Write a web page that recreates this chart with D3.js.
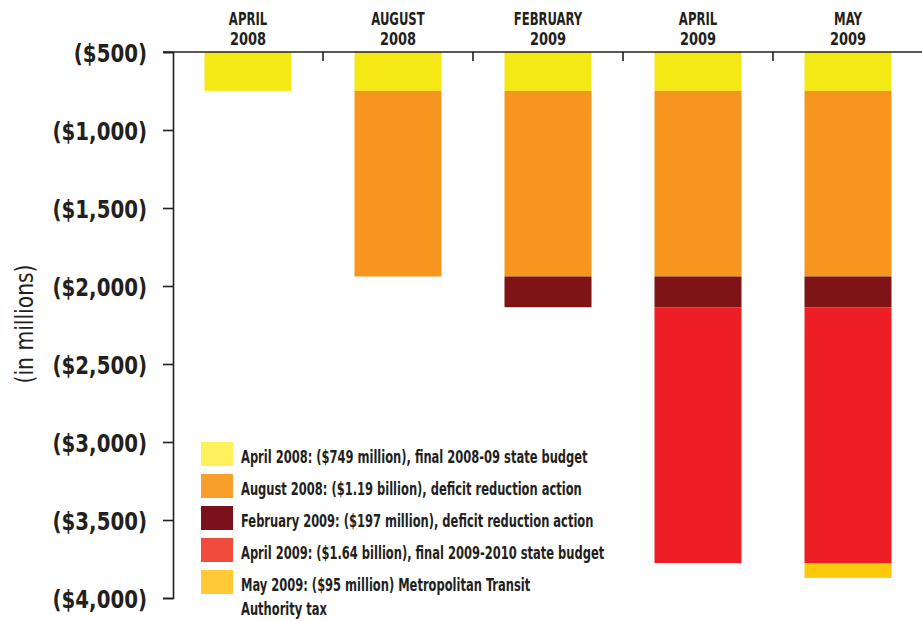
<!DOCTYPE html>
<html>
<head>
<meta charset="utf-8">
<script src="https://cdn.jsdelivr.net/npm/d3@7"></script>
<style>
  html, body { margin: 0; padding: 0; background: #fff; }
  svg { display: block; }
  text { fill: #231f20; font-family: "DejaVu Sans Condensed", "Liberation Sans Narrow", sans-serif; }
</style>
</head>
<body>
<svg id="chart" width="922" height="621"></svg>
<script>
// Budget actions, in the order they were taken
const periods = ["APRIL|2008", "AUGUST|2008", "FEBRUARY|2009", "APRIL|2009", "MAY|2009"];
const actionAmounts = [749, 1190, 197, 1640, 95]; // $ millions cut at each step
const actionLabels = [
  "April 2008: ($749 million), final 2008-09 state budget",
  "August 2008: ($1.19 billion), deficit reduction action",
  "February 2009: ($197 million), deficit reduction action",
  "April 2009: ($1.64 billion), final 2009-2010 state budget",
  "May 2009: ($95 million) Metropolitan Transit|Authority tax"
];
const barColors = ["#f4e914", "#f7961f", "#7f1416", "#ed1f25", "#fdc90b"];
const swatchColors = ["#fff15c", "#f99d2b", "#7b111a", "#ef4c3d", "#ffc937"];
const yTicks = [-500, -1000, -1500, -2000, -2500, -3000, -3500, -4000];

const svg = d3.select("#chart");
const plotL = 173, plotR = 923, plotT = 52, plotB = 598;
const ink = "#231f20";

const x = d3.scaleBand().domain(periods).range([plotL, plotR])
  .paddingInner(0.42).paddingOuter(0.21);
const y = d3.scaleLinear().domain([-500, -4000]).range([plotT, plotB]).clamp(true);

// Squeeze glyphs horizontally to get a narrow display face
function condense(sel, f) {
  sel.each(function() {
    const w = this.getComputedTextLength();
    d3.select(this).attr("textLength", w * f).attr("lengthAdjust", "spacingAndGlyphs");
  });
}

// Each column stacks every action taken up to and including that period
const segments = [];
periods.forEach((p, pi) => {
  let acc = 0;
  for (let k = 0; k <= pi; k++) {
    segments.push({ period: p, k, y0: -acc, y1: -(acc + actionAmounts[k]) });
    acc += actionAmounts[k];
  }
});

svg.append("g").selectAll("rect").data(segments).join("rect")
  .attr("x", d => x(d.period))
  .attr("width", x.bandwidth())
  .attr("y", d => y(d.y0))
  .attr("height", d => y(d.y1) - y(d.y0))
  .attr("fill", d => barColors[d.k]);

const fmt = v => "($" + d3.format(",")(Math.abs(v)) + ")";

// Left axis
const yAxis = d3.axisLeft(y).tickValues(yTicks).tickFormat(fmt).tickSize(10).tickPadding(16);
const gy = svg.append("g").attr("transform", `translate(${plotL},0)`).call(yAxis);
gy.select(".domain").attr("stroke", ink).attr("stroke-width", 1.6);
gy.selectAll(".tick line").attr("stroke", ink).attr("stroke-width", 1.6);
gy.selectAll(".tick text")
  .attr("font-size", 25).attr("font-weight", "bold")
  .attr("dy", "0.37em").attr("fill", ink)
  .attr("font-family", null)
  .style("font-family", '"DejaVu Sans Condensed", sans-serif')
  .call(condense, 0.88);

// Top baseline with ticks between periods
svg.append("line")
  .attr("x1", plotL - 10).attr("x2", 922).attr("y1", plotT).attr("y2", plotT)
  .attr("stroke", ink).attr("stroke-width", 1.6);
svg.append("g").selectAll("line").data(periods.slice(1)).join("line")
  .attr("x1", d => x(d) - x.step() * x.paddingInner() / 2)
  .attr("x2", d => x(d) - x.step() * x.paddingInner() / 2)
  .attr("y1", plotT).attr("y2", plotT + 9)
  .attr("stroke", ink).attr("stroke-width", 1.6);

// Period headers, two lines each
const headG = svg.append("g");
[0, 1].forEach(line => {
  headG.append("g").selectAll("text").data(periods).join("text")
    .attr("x", d => x(d) + x.bandwidth() / 2)
    .attr("y", line === 0 ? 25 : 45)
    .attr("text-anchor", "middle")
    .attr("font-size", 18.5).attr("font-weight", "bold")
    .text(d => d.split("|")[line])
    .call(condense, line === 0 ? 0.7 : 0.78);
});

// Axis title
svg.append("text")
  .attr("transform", "translate(33,324) rotate(-90)")
  .attr("text-anchor", "middle")
  .attr("font-size", 24)
  .text("(in millions)")
  .call(condense, 0.94);

// Legend
const lg = svg.append("g").selectAll("g").data(actionLabels).join("g")
  .attr("transform", (d, i) => `translate(201,${442 + i * 32})`);
lg.append("rect").attr("width", 32).attr("height", 24).attr("fill", (d, i) => swatchColors[i]);
lg.each(function(d) {
  d.split("|").forEach((p, j) => {
    d3.select(this).append("text")
      .attr("x", 40).attr("y", 21 + j * 24)
      .attr("font-size", 17.5).attr("font-weight", "bold")
      .text(p)
      .call(condense, 0.73);
  });
});
</script>
</body>
</html>
